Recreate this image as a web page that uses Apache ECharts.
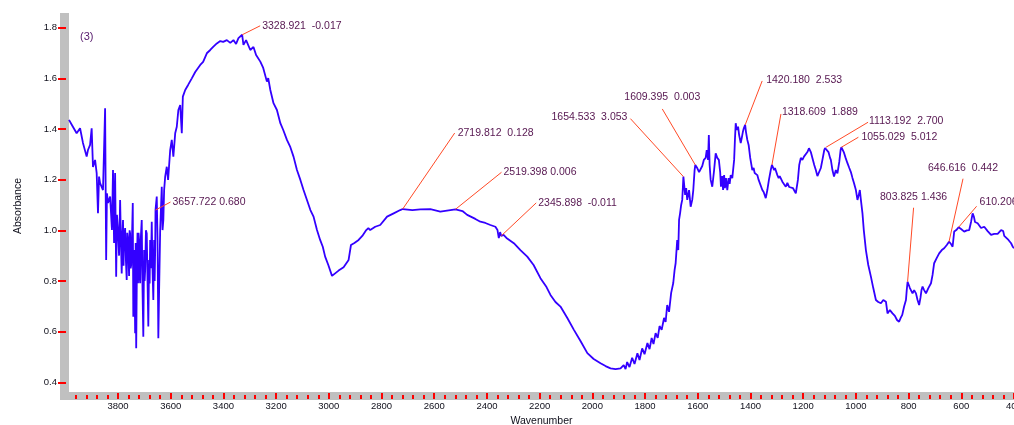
<!DOCTYPE html>
<html>
<head>
<meta charset="utf-8">
<script src="https://cdn.jsdelivr.net/npm/echarts@6/dist/echarts.min.js"></script>
<style>
  html, body { margin: 0; padding: 0; background: #ffffff; }
  #chart { width: 1014px; height: 425px; }
</style>
</head>
<body>
<div id="chart"></div>
<script>
// IR absorbance spectrum, sample (3)
const wavenumber = [
  3986, 3975, 3957, 3944, 3933, 3919, 3914, 3906, 3900, 3895, 3887, 3881, 3876, 3872, 3868, 3857,
  3849, 3845, 3842, 3838, 3830, 3823, 3819, 3815, 3811, 3807, 3804, 3800, 3796, 3792, 3789, 3786,
  3783, 3781, 3779, 3777, 3773, 3770, 3767, 3765, 3762, 3758, 3756, 3754, 3752, 3750, 3747, 3744,
  3742, 3739, 3737, 3735, 3733, 3731, 3728, 3726, 3724, 3722, 3720, 3718, 3716, 3713, 3710, 3707,
  3704, 3701, 3699, 3697, 3694, 3691, 3688, 3685, 3682, 3680, 3678, 3675, 3672, 3669, 3666, 3663,
  3661, 3659, 3657.722, 3653, 3650, 3647, 3644,
  3640, 3634, 3631, 3628, 3625, 3621, 3615, 3610, 3602, 3596, 3590, 3583, 3577, 3571, 3564, 3558,
  3554, 3545, 3534, 3520, 3507, 3488, 3477, 3463, 3450, 3439, 3425, 3412, 3401, 3387, 3374, 3362,
  3352, 3343, 3328.921, 3324, 3314, 3298, 3286, 3276, 3260, 3249, 3235, 3230, 3222, 3210, 3197, 3184,
  3173, 3159, 3146, 3134, 3121, 3108, 3096, 3083, 3070, 3058, 3045, 3033, 3023, 3014, 3002, 2988,
  2982, 2963, 2944, 2925, 2916, 2903, 2887, 2873, 2858, 2850, 2843, 2824, 2805, 2779, 2754, 2729,
  2719.812, 2683, 2653, 2615, 2577, 2539, 2519.398, 2493, 2475, 2444, 2425, 2406, 2387, 2368, 2360, 2355,
  2350, 2345.898, 2337, 2326, 2298, 2273, 2247, 2223, 2197, 2174, 2159, 2140, 2121, 2095, 2070, 2045,
  2019, 1995, 1969, 1950, 1931, 1912, 1893, 1881, 1874, 1868, 1859, 1849, 1840, 1829, 1821, 1811,
  1802, 1791, 1783, 1775, 1768, 1760, 1752, 1745, 1737, 1728, 1722, 1716, 1709, 1701, 1693, 1688,
  1684, 1678, 1674, 1671, 1667, 1663, 1659, 1657, 1654.533, 1648, 1644, 1640, 1633, 1627, 1621, 1617,
  1612, 1609.395, 1602, 1595, 1589, 1583, 1577, 1570, 1566, 1561, 1558, 1555, 1551, 1545, 1538, 1532,
  1526, 1520, 1515, 1512, 1507, 1504, 1500, 1497, 1493, 1488, 1483, 1479, 1475, 1469, 1462, 1459,
  1456, 1452, 1447, 1443, 1437, 1433, 1429, 1425, 1420.180, 1417, 1412, 1407, 1401, 1393, 1388, 1384,
  1374, 1369, 1365, 1355, 1350, 1342, 1336, 1330, 1323, 1318.609, 1310, 1307, 1298, 1293, 1289, 1279,
  1272, 1266, 1260, 1253, 1247, 1239, 1228, 1220, 1215, 1209, 1203, 1197, 1190, 1184, 1178, 1171,
  1163, 1158, 1152, 1146, 1140, 1133, 1127, 1120, 1117, 1113.192, 1104, 1098, 1095, 1089, 1083, 1076,
  1070, 1063, 1058, 1055.029, 1046, 1039, 1032, 1025, 1019, 1013, 1007, 1000, 994, 989, 985, 981,
  975, 970, 962, 953, 943, 934, 924, 915, 905, 896, 886, 880, 871, 861, 852, 844,
  836, 830, 824, 817, 810, 807, 803.825, 795, 785, 779, 772, 766, 760, 755, 751, 747,
  741, 734, 725, 715, 709, 703, 693, 684, 678, 674, 665, 660, 655, 646.616, 639, 633,
  627, 619, 610.206, 601, 589, 579, 570, 563, 557, 552, 548, 538, 532, 525, 513, 500,
  487, 475, 462, 449, 441, 437, 430, 421, 411, 404, 400
];
const absorbance = [
  1.436, 1.416, 1.383, 1.403, 1.345, 1.291, 1.317, 1.337, 1.403, 1.250, 1.278, 1.226, 1.067, 1.212, 1.186, 1.159,
  1.482, 0.883, 1.146, 1.108, 1.133, 1.001, 1.238, 0.950, 1.226, 0.817, 1.061, 1.001, 0.900, 1.120, 0.960, 0.830,
  0.990, 1.041, 0.860, 0.962, 1.009, 0.880, 0.804, 0.990, 0.962, 0.820, 1.000, 0.988, 0.850, 0.863, 0.970, 1.108,
  0.659, 0.922, 0.800, 0.594, 0.950, 0.534, 0.883, 0.990, 0.791, 0.990, 0.962, 0.820, 0.791, 0.980, 1.041, 0.764,
  0.580, 0.922, 0.800, 0.843, 1.000, 0.988, 0.800, 0.620, 0.883, 0.790, 0.962, 0.850, 1.034, 0.843, 0.725, 0.962,
  0.800, 0.922, 1.080, 1.133, 0.962, 0.574, 0.764,
  1.001, 1.172, 1.001, 1.041, 1.159, 1.212, 1.251, 1.199, 1.317, 1.357, 1.291, 1.383, 1.409, 1.475, 1.495, 1.383,
  1.528, 1.554, 1.574, 1.600, 1.625, 1.653, 1.665, 1.699, 1.712, 1.724, 1.738, 1.747, 1.744, 1.751, 1.740, 1.751,
  1.736, 1.759, 1.772, 1.732, 1.751, 1.712, 1.724, 1.692, 1.666, 1.641, 1.587, 1.601, 1.554, 1.502, 1.475, 1.423,
  1.396, 1.357, 1.328, 1.291, 1.238, 1.199, 1.159, 1.120, 1.080, 1.054, 1.001, 0.962, 0.935, 0.896, 0.863, 0.820,
  0.821, 0.841, 0.854, 0.883, 0.942, 0.950, 0.962, 0.978, 1.001, 1.009, 1.001, 1.014, 1.021, 1.054, 1.067, 1.080,
  1.084, 1.080, 1.083, 1.084, 1.074, 1.080, 1.083, 1.076, 1.061, 1.045, 1.034, 1.029, 1.021, 1.014, 1.001, 0.969,
  0.993, 0.978, 0.982, 0.970, 0.949, 0.922, 0.896, 0.863, 0.811, 0.776, 0.745, 0.717, 0.699, 0.654, 0.607, 0.563,
  0.515, 0.492, 0.475, 0.464, 0.455, 0.452, 0.455, 0.468, 0.452, 0.480, 0.460, 0.497, 0.472, 0.515, 0.488, 0.534,
  0.511, 0.555, 0.531, 0.575, 0.551, 0.594, 0.575, 0.622, 0.607, 0.654, 0.638, 0.705, 0.678, 0.753, 0.792, 0.843,
  0.870, 0.962, 0.922, 1.041, 1.068, 1.100, 1.120, 1.159, 1.212, 1.140, 1.167, 1.120, 1.159, 1.093, 1.120, 1.159,
  1.238, 1.258, 1.246, 1.230, 1.232, 1.254, 1.278, 1.286, 1.317, 1.278, 1.376, 1.258, 1.199, 1.172, 1.238, 1.304,
  1.286, 1.278, 1.230, 1.172, 1.214, 1.159, 1.218, 1.166, 1.206, 1.159, 1.206, 1.183, 1.218, 1.206, 1.278, 1.357,
  1.423, 1.396, 1.409, 1.376, 1.344, 1.365, 1.388, 1.404, 1.416, 1.388, 1.357, 1.337, 1.286, 1.238, 1.246, 1.226,
  1.218, 1.199, 1.206, 1.159, 1.151, 1.127, 1.159, 1.199, 1.238, 1.258, 1.238, 1.246, 1.218, 1.206, 1.214, 1.192,
  1.191, 1.172, 1.187, 1.171, 1.175, 1.167, 1.146, 1.199, 1.258, 1.286, 1.278, 1.291, 1.286, 1.309, 1.324, 1.309,
  1.278, 1.258, 1.238, 1.214, 1.212, 1.246, 1.278, 1.317, 1.325, 1.328, 1.309, 1.286, 1.278, 1.238, 1.212, 1.238,
  1.225, 1.270, 1.317, 1.328, 1.309, 1.286, 1.265, 1.246, 1.230, 1.207, 1.186, 1.159, 1.120, 1.140, 1.159, 1.120,
  1.067, 1.001, 0.922, 0.863, 0.817, 0.772, 0.725, 0.717, 0.712, 0.725, 0.718, 0.672, 0.685, 0.672, 0.662, 0.646,
  0.639, 0.654, 0.666, 0.699, 0.725, 0.764, 0.797, 0.772, 0.751, 0.764, 0.751, 0.725, 0.705, 0.733, 0.764, 0.778,
  0.764, 0.751, 0.772, 0.791, 0.824, 0.870, 0.891, 0.909, 0.903, 0.922, 0.929, 0.922, 0.942, 0.955, 0.946, 0.935,
  0.995, 1.001, 1.012, 1.005, 0.995, 1.000, 1.001, 1.033, 1.067, 1.053, 1.033, 1.028, 1.025, 1.009, 1.014, 0.997,
  0.982, 0.986, 0.986, 1.001, 0.997, 0.978, 0.975, 0.962, 0.949, 0.934, 0.929
];

// Peak picks: position and the text printed next to it
const peakWavenumber = [3657.722, 3328.921, 2719.812, 2519.398, 2345.898, 1654.533, 1609.395,
  1420.180, 1318.609, 1113.192, 1055.029, 803.825, 646.616, 610.206];
const peakText = ['3657.722 0.680', '3328.921  -0.017', '2719.812  0.128', '2519.398 0.006',
  '2345.898  -0.011', '1654.533  3.053', '1609.395  0.003', '1420.180  2.533', '1318.609  1.889',
  '1113.192  2.700', '1055.029  5.012', '803.825 1.436', '646.616  0.442', '610.206'];

// Tick labels
const xTickLabels = [3800, 3600, 3400, 3200, 3000, 2800, 2600, 2400, 2200, 2000, 1800, 1600, 1400, 1200, 1000, 800, 600, 400];
const xMinorTicks = [];
for (let v = 3960; v >= 400; v -= 40) xMinorTicks.push(v);
const yTickLabels = [0.4, 0.6, 0.8, 1.0, 1.2, 1.4, 1.6, 1.8];

// Leader geometry per pick: [end dx, end dy, text dx, text dy, text align]
const leaderLayout = [
  [15, -8, 2, 0, 'left'],
  [18, -9, 2, 0, 'left'],
  [52, -76, 3, 0, 'left'],
  [46, -37, 2, 0, 'left'],
  [35, -33, 2, 0, 'left'],
  [-53, -58, -3, -2, 'right'],
  [-33, -56, 0, -12, 'center'],
  [17, -44, 4, -1, 'left'],
  [9, -51, 1, -2, 'left'],
  [42, -25, 1, -1, 'left'],
  [17, -10, 3, 0, 'left'],
  [6, -74, 0, -11, 'center'],
  [14, -63, 0, -11, 'center'],
  [18, -21, 3, -4, 'left']
];

// Plot frame: bottom edge sits on the tick rail (y = 399)
const GRID = { left: 69, right: 0, top: 13, bottom: 26 };
const W = 1014, H = 425;
const RAIL = 8;

const spectrum = wavenumber.map((w, i) => [w, absorbance[i]]);
const peaks = peakWavenumber.map((w, i) => [w, absorbance[wavenumber.indexOf(w)], i]);

const chart = echarts.init(document.getElementById('chart'), null, { renderer: 'canvas' });

const axisFont = { fontFamily: 'Liberation Sans, Arial, sans-serif', fontSize: 9.5, color: '#10101c' };
const railY = H - GRID.bottom - RAIL + 1;

chart.setOption({
  animation: false,
  backgroundColor: '#ffffff',
  grid: {
    left: GRID.left, right: GRID.right, top: GRID.top, bottom: GRID.bottom,
    containLabel: false, outerBoundsMode: 'none'
  },
  graphic: [
    { type: 'rect', z: -10, shape: { x: 60, y: GRID.top, width: GRID.left - 60, height: railY + RAIL - GRID.top }, style: { fill: '#c0c0c0' } },
    { type: 'rect', z: -10, shape: { x: 60, y: railY, width: W - 60, height: RAIL }, style: { fill: '#c0c0c0' } },
    { type: 'text', left: 80, top: 31, style: { text: '(3)', fill: '#5a2070', font: '11px Liberation Sans, Arial, sans-serif' } }
  ],
  xAxis: [
    {
      type: 'value', min: 400, max: 3986, inverse: true, position: 'bottom',
      name: 'Wavenumber', nameLocation: 'middle', nameGap: 16,
      nameTextStyle: { fontFamily: 'Liberation Sans, Arial, sans-serif', fontSize: 10.5, color: '#10101c' },
      axisLine: { show: false, onZero: false },
      splitLine: { show: false },
      axisTick: { show: true, inside: true, length: 6, customValues: xTickLabels, lineStyle: { color: '#ff0000', width: 2 } },
      axisLabel: Object.assign({ margin: 2, customValues: xTickLabels, formatter: v => String(v) }, axisFont)
    },
    {
      type: 'value', min: 400, max: 3986, inverse: true, position: 'bottom',
      axisLine: { show: false, onZero: false },
      splitLine: { show: false },
      axisTick: { show: true, inside: true, length: 4, customValues: xMinorTicks, lineStyle: { color: '#ff0000', width: 2 } },
      axisLabel: { show: false }
    }
  ],
  yAxis: {
    type: 'value', min: 0.334, max: 1.858, position: 'left', offset: 3,
    name: 'Absorbance', nameLocation: 'middle', nameGap: 42, nameRotate: 90,
    nameTextStyle: { fontFamily: 'Liberation Sans, Arial, sans-serif', fontSize: 10.5, color: '#10101c' },
    axisLine: { show: false },
    splitLine: { show: false },
    axisTick: { show: true, length: 8, customValues: yTickLabels, lineStyle: { color: '#ff0000', width: 2 } },
    axisLabel: Object.assign({ margin: 9, customValues: yTickLabels, formatter: v => v.toFixed(1) }, axisFont)
  },
  series: [
    {
      type: 'line', data: spectrum, xAxisIndex: 0, showSymbol: false, symbol: 'none',
      lineStyle: { color: '#3300ff', width: 1.8 }, clip: true, z: 3
    },
    {
      type: 'custom', data: peaks, xAxisIndex: 0, clip: false, z: 4,
      renderItem: function (params, api) {
        const i = api.value(2);
        const p = api.coord([api.value(0), api.value(1)]);
        const L = leaderLayout[i];
        const ex = p[0] + L[0], ey = p[1] + L[1];
        return {
          type: 'group',
          children: [
            { type: 'line', shape: { x1: p[0], y1: p[1], x2: ex, y2: ey }, style: { stroke: '#ff4a26', lineWidth: 1 } },
            { type: 'text', x: ex + L[2], y: ey + L[3],
              style: { text: peakText[i], fill: '#561650', font: '10.5px Liberation Sans, Arial, sans-serif',
                       align: L[4], verticalAlign: 'middle' } }
          ]
        };
      }
    }
  ]
});
</script>
</body>
</html>
